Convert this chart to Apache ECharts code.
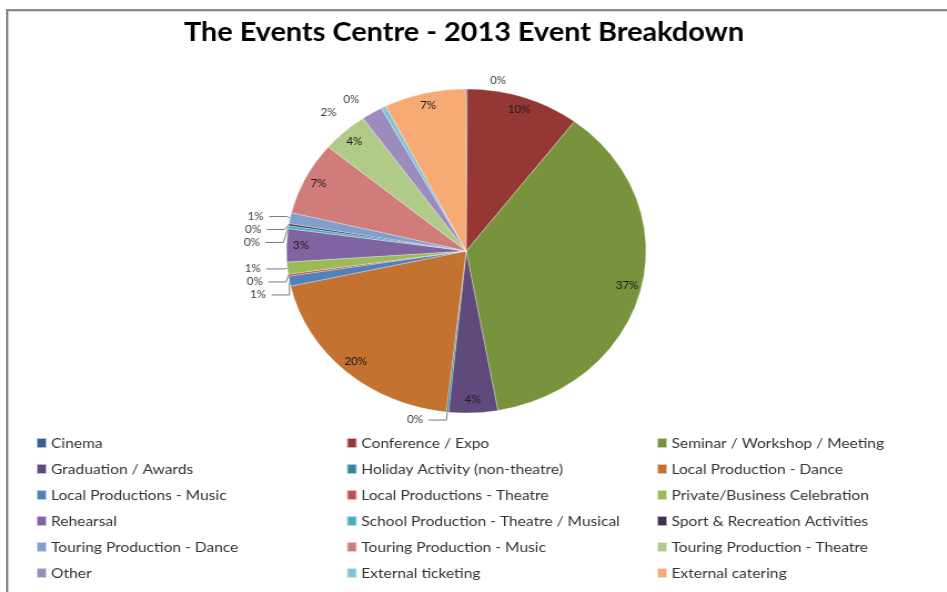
<!DOCTYPE html>
<html>
<head>
<meta charset="utf-8">
<script src="https://cdn.jsdelivr.net/npm/echarts@6/dist/echarts.min.js"></script>
<style>
  html, body { margin: 0; padding: 0; background: #fff; overflow: hidden; }
  #frame {
    position: absolute; left: 6px; top: 9px; width: 960px; height: 600px;
    border-top: 2px solid #8a8a8a; border-left: 2px solid #8a8a8a;
    box-shadow: inset 1px 1px 0 #d0d0d0;
  }
  #chart {
    position: absolute; left: 0; top: 0; width: 853px; height: 592px;
    transform: scaleX(1.11); transform-origin: 0 0;
  }
</style>
</head>
<body>
<div id="frame"></div>
<div id="chart"></div>
<script>
// Event categories, in the order the slices run clockwise from 12 o'clock
const categories = [
  'Cinema', 'Conference / Expo', 'Seminar / Workshop / Meeting',
  'Graduation / Awards', 'Holiday Activity (non-theatre)', 'Local Production - Dance',
  'Local Productions - Music', 'Local Productions - Theatre', 'Private/Business Celebration',
  'Rehearsal', 'School Production - Theatre / Musical', 'Sport & Recreation Activities',
  'Touring Production - Dance', 'Touring Production - Music', 'Touring Production - Theatre',
  'Other', 'External ticketing', 'External catering'
];

// Share of events per category (%)
const shares = [
  0.1, 10.2, 37.0,
  4.4, 0.2, 19.8,
  1.0, 0.2, 1.2,
  3.3, 0.3, 0.2,
  1.1, 7.3, 4.2,
  1.9, 0.45, 7.4
];

const sliceColors = [
  '#3A5F8E', '#953735', '#77933C',
  '#604A7B', '#31859C', '#C4722F',
  '#4F81BD', '#C0504D', '#9BBB59',
  '#8064A2', '#4BACC6', '#3F3151',
  '#7F9FCF', '#D07C7A', '#B0CB88',
  '#9C8CBE', '#7FC4D8', '#F8AA74'
];

const chartTitle = 'The Events Centre - 2013 Event Breakdown';

const pieData = categories.map((name, i) => ({ name: name, value: shares[i] }));
const pct = p => Math.round(p.percent) + '%';
const BIG = 2.5;
// small slices near the top carry their label without a leader line
const noLeader = ['Cinema', 'Other', 'External ticketing'];

// legend laid out in three columns, filled row by row
const legendCols = [0, 1, 2].map(c => categories.filter((_, i) => i % 3 === c));
const colLeft = [27, 306.5, 586];
const legends = legendCols.map((col, c) => ({
  data: col,
  orient: 'vertical',
  left: colLeft[c],
  top: 430,
  itemWidth: 9,
  itemHeight: 10,
  itemGap: 10,
  icon: 'rect',
  selectedMode: false,
  textStyle: { fontFamily: 'Lato', fontSize: 14, color: '#333', lineHeight: 16, padding: [0, 0, 0, -1] }
}));

const smallLabelData = pieData.map(d => {
  if (d.value >= BIG) return d;
  if (noLeader.indexOf(d.name) >= 0) {
    return { ...d, labelLine: { show: false } };
  }
  return { ...d, labelLine: { show: true } };
});

const chart = echarts.init(document.getElementById('chart'), null, { renderer: 'canvas' });
chart.setOption({
  animation: false,
  color: sliceColors,
  title: {
    text: chartTitle,
    left: 413, top: 15, textAlign: 'center',
    textStyle: { fontFamily: 'Lato', fontWeight: 'bold', fontSize: 26, color: '#000' }
  },
  legend: legends,
  series: [
    {
      type: 'pie',
      center: [420, 251],
      radius: [0, 162],
      startAngle: 90,
      clockwise: true,
      avoidLabelOverlap: true,
      itemStyle: { borderColor: 'rgba(255,255,255,0.6)', borderWidth: 0.5 },
      label: {
        show: true,
        position: 'outside',
        fontFamily: 'Lato', fontSize: 10.5, color: '#404040',
        formatter: p => (p.percent >= BIG ? '' : pct(p))
      },
      labelLine: {
        show: false, length: 8, length2: 16,
        lineStyle: { color: '#7a7a7a', width: 1 }
      },
      data: smallLabelData
    },
    {
      type: 'pie',
      center: [420, 251],
      radius: [130, 162],
      startAngle: 90,
      clockwise: true,
      silent: true,
      itemStyle: { color: 'transparent' },
      label: {
        show: true,
        position: 'inside',
        fontFamily: 'Lato', fontSize: 10.5, color: '#1a1a1a',
        formatter: p => (p.percent >= BIG ? pct(p) : '')
      },
      labelLine: { show: false },
      data: pieData
    }
  ]
});
</script>
</body>
</html>
